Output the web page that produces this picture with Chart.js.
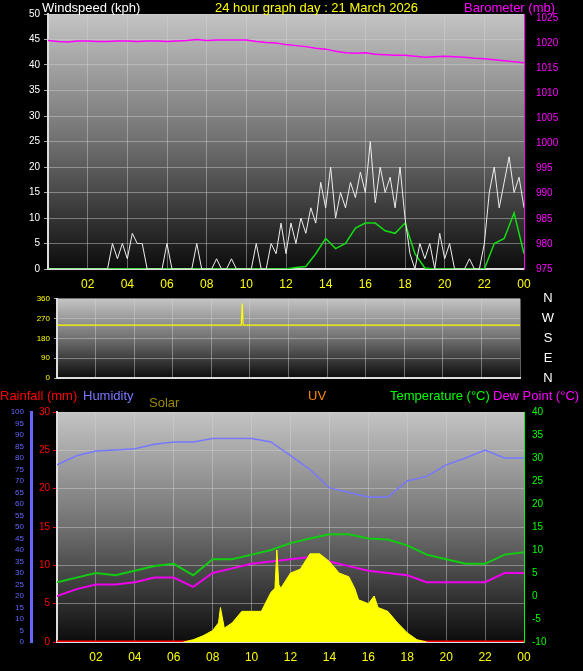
<!DOCTYPE html>
<html><head><meta charset="utf-8">
<script src="https://cdn.jsdelivr.net/npm/chart.js@4/dist/chart.umd.min.js"></script>
<style>
body{margin:0;background:#000;width:583px;height:671px;overflow:hidden;position:relative;font-family:"Liberation Sans",Arial,sans-serif}
.c{position:absolute;left:0}
.t{position:absolute;font-size:13px;white-space:nowrap;line-height:13px}
</style></head><body>
<div class="c" style="top:4px;width:583px;height:296px"><canvas id="c1"></canvas></div>
<div class="c" style="top:290px;width:583px;height:100px"><canvas id="c2"></canvas></div>
<div class="c" style="top:400px;width:583px;height:271px"><canvas id="c3"></canvas></div>
<div class="t" style="left:42px;top:1px;color:#fff">Windspeed (kph)</div>
<div class="t" style="left:215px;top:1px;color:#ff0">24 hour graph day : 21 March 2026</div>
<div class="t" style="left:464px;top:1px;color:#f0f">Barometer (mb)</div>
<div class="t" style="left:0;top:389px;color:#f00">Rainfall (mm)</div>
<div class="t" style="left:83px;top:389px;color:#77f">Humidity</div>
<div class="t" style="left:149px;top:396px;color:#998800">Solar</div>
<div class="t" style="left:308px;top:389px;color:#f80">UV</div>
<div class="t" style="left:390px;top:389px;color:#0f0">Temperature (°C)</div>
<div class="t" style="left:493px;top:389px;color:#f0f">Dew Point (°C)</div>
<script>
const hoursHalf = Array.from({length:49},(_,i)=>i/2);
const hoursQuarter = Array.from({length:97},(_,i)=>i/4);
const hoursHourly = Array.from({length:25},(_,i)=>i);
const hourTicks = [0,2,4,6,8,10,12,14,16,18,20,22,24];
const compassTicks = [0,90,180,270,360];
const compassLabels = ['N','E','S','W','N'];

const barometer = [1020.5,1020.3,1020.2,1020.4,1020.4,1020.3,1020.3,1020.4,1020.4,1020.3,1020.4,1020.4,1020.3,1020.4,1020.5,1020.7,1020.5,1020.6,1020.6,1020.6,1020.6,1020.3,1020.1,1020.0,1019.7,1019.5,1019.3,1019.0,1018.8,1018.4,1018.1,1018.0,1018.1,1017.8,1017.7,1017.6,1017.6,1017.4,1017.2,1017.3,1017.4,1017.3,1017.2,1017.0,1016.9,1016.7,1016.5,1016.3,1016.1];
const windSpeed = [0,0,0,0,0,0,0,0,0,0,0,0,0,0,0,0,0,0,0,0,0,0,0,0,0,0.3,0.5,3,6,4,5,8,9,9,7.5,7,9,3,0.2,0,0,0,0,0,0,5,6,11,3];
const windGust = [0,0,0,0,0,0,0,0,0,0,0,0,0,5,2,5,2,7,5,5,0,0,0,0,5,0,0,0,0,0,5,0,0,0,2,0,0,2,0,0,0,0,5,0,0,5,3,9,3,9,5,10,7,12,9,17,12,20,10,15,12,17,14,19,15,25,13,20,15,18,12,20,10,3,0,5,2,5,0,7,2,5,0,0,0,2,0,0,5,15,20,12,17,22,15,18,12];
const windDirHours = [0,9.55,9.6,9.65,24];
const windDir = [240,240,338,240,240];
const humidity = [77,81,83,83.5,84,86,87,87,88.5,88.5,88.5,87,81,75,67,65,63,63,70,72,77,80,83.5,80,80];
const temperature = [3,4,5,4.5,5.5,6.5,7,4.5,8,8,9,10,11.5,12.5,13.4,13.4,12.5,12.3,11,9,8,7,7,9,9.5];
const dewPoint = [0,1.5,2.5,2.5,3,4,4,2,5,6,7,7.5,8,8.5,7.5,6.5,5.5,5,4.5,3,3,3,3,5,5];
const solarHours = [6.5,7,7.5,8,8.3,8.4,8.6,9,9.5,10,10.5,11,11.2,11.3,11.4,11.5,12,12.5,13,13.5,14,14.5,15,15.3,15.5,16,16.3,16.5,17,17.5,18,18.5,19];
const solar = [0,0.3,0.8,1.5,2.5,4.5,1.8,2.5,4,4,4,6.5,7,12,7.5,7,9,9.5,11.5,11.5,10.5,9,8.5,7,5.5,5,6,4.5,4,2.5,1.2,0.3,0];
const uvHours = [8.2,8.3,8.6,8.7,9,10,11,12,13,14,15,16,17,17.2];
const uv = [0,0.6,0.6,0,0.6,1,1.5,2.2,3,2.7,2,1.5,1,0];
const rainHours = [0,24];
const rain = [0,0];

const pts=(xs,ys)=>xs.map((x,i)=>({x,y:ys[i]}));
const FONT={family:'"Liberation Sans",Arial,sans-serif',size:10};
const bg={id:'bg',beforeDraw(ch){const a=ch.chartArea,c=ch.ctx;const g=c.createLinearGradient(0,a.top,0,a.bottom);g.addColorStop(0,'#c4c4c4');g.addColorStop(0.5,'#707070');g.addColorStop(1,'#0c0c0c');c.save();c.fillStyle=g;c.fillRect(a.left,a.top,a.right-a.left,a.bottom-a.top);c.restore();}};
const compass={id:'compass',afterDraw(ch){const s=ch.scales.y,c=ch.ctx;c.save();c.fillStyle='#fff';c.font='13px "Liberation Sans",Arial,sans-serif';c.textAlign='center';c.textBaseline='middle';compassTicks.forEach((v,i)=>c.fillText(compassLabels[i],548,s.getPixelForValue(v)));c.restore();}};
const grid={color:'rgba(210,210,210,0.45)',borderDash:[1,2],drawTicks:false};
function xAxis(h,show){return {type:'linear',min:0,max:24,afterBuildTicks:s=>{s.ticks=hourTicks.map(v=>({value:v}));},afterFit:s=>{s.height=h;},
 grid:{...grid,drawTicks:false},border:{color:'#ddd',width:2},
 ticks:{display:show,color:'#ff0',font:{...FONT,size:12},padding:8,maxRotation:0,autoSkip:false,callback:v=>v===0?'':String(v%24).padStart(2,'0')}};}
const fixW=w=>s=>{s.width=w;};
const base={responsive:true,maintainAspectRatio:false,animation:false,plugins:{legend:{display:false},tooltip:{enabled:false}},elements:{point:{radius:0}}};

new Chart(document.getElementById('c1'),{type:'line',plugins:[bg],
 data:{datasets:[
  {data:pts(hoursHalf,barometer),borderColor:'#f0f',borderWidth:1.5,yAxisID:'yb'},
  {data:pts(hoursQuarter,windGust),borderColor:'#eee',borderWidth:1,yAxisID:'y'},
  {data:pts(hoursHalf,windSpeed),borderColor:'#1d1',borderWidth:1.5,yAxisID:'y'}]},
 options:{...base,layout:{padding:{top:0}},scales:{
  x:xAxis(31,true),
  y:{position:'left',min:0,max:50,afterFit:fixW(48),ticks:{stepSize:5,color:'#fff',font:FONT,padding:4},grid:{...grid,tickColor:'#aaa',drawTicks:true,tickLength:4},border:{color:'#ddd',width:2}},
  yb:{position:'right',min:975,max:1025.8,afterFit:fixW(59),afterBuildTicks:s=>{s.ticks=[975,980,985,990,995,1000,1005,1010,1015,1020,1025].map(v=>({value:v}));},ticks:{color:'#f0f',font:FONT,padding:4,callback:v=>String(v)},grid:{display:false,drawTicks:true},border:{color:'#f0f',width:1,dash:[2,2]}}}}});

new Chart(document.getElementById('c2'),{type:'line',plugins:[bg,compass],
 data:{datasets:[{data:pts(windDirHours,windDir),borderColor:'#ff0',borderWidth:1.2,yAxisID:'y'}]},
 options:{...base,layout:{padding:{top:7,right:63}},scales:{
  x:xAxis(12,false),
  y:{position:'left',min:0,max:360,afterFit:fixW(57),afterBuildTicks:s=>{s.ticks=compassTicks.map(v=>({value:v}));},ticks:{color:'#ff0',font:{...FONT,size:8},padding:4},grid:{...grid,drawTicks:true,tickLength:3,tickColor:'#aaa'},border:{color:'#ddd',width:2}}}}});

new Chart(document.getElementById('c3'),{type:'line',plugins:[bg],
 data:{datasets:[
  {data:pts(solarHours,solar),borderColor:'#ff0',backgroundColor:'#ff0',fill:'origin',borderWidth:1,yAxisID:'yr'},
  {data:pts(uvHours,uv),borderColor:'#f90',borderWidth:1.5,yAxisID:'yr'},
  {data:pts(hoursHourly,humidity),borderColor:'#77f',borderWidth:1.5,yAxisID:'yh'},
  {data:pts(hoursHourly,temperature),borderColor:'#1c1',borderWidth:2,yAxisID:'yt'},
  {data:pts(hoursHourly,dewPoint),borderColor:'#e0e',borderWidth:2,yAxisID:'yt'},
  {data:pts(rainHours,rain),borderColor:'#f00',borderWidth:3,yAxisID:'yr'}]},
 options:{...base,layout:{padding:{top:12}},scales:{
  x:xAxis(29,true),
  yr:{position:'left',min:0,max:30,afterFit:fixW(26),ticks:{stepSize:5,color:'#f00',font:FONT,padding:3},grid:{...grid,drawTicks:true,tickLength:4,tickColor:'#f00'},border:{color:'#ddd',width:2}},
  yh:{position:'left',min:0,max:100,afterFit:fixW(31),ticks:{stepSize:5,autoSkip:false,color:'#66f',font:{...FONT,size:8},padding:3},grid:{display:false,drawTicks:true,tickLength:4,tickColor:'#66f'},border:{color:'#66f',width:3}},
  yt:{position:'right',min:-10,max:40,afterFit:fixW(59),ticks:{stepSize:5,color:'#0f0',font:FONT,padding:4},grid:{display:false,drawTicks:true,tickLength:4,tickColor:'#0f0'},border:{color:'#0f0',width:1,dash:[2,2]}}}}});
</script></body></html>
